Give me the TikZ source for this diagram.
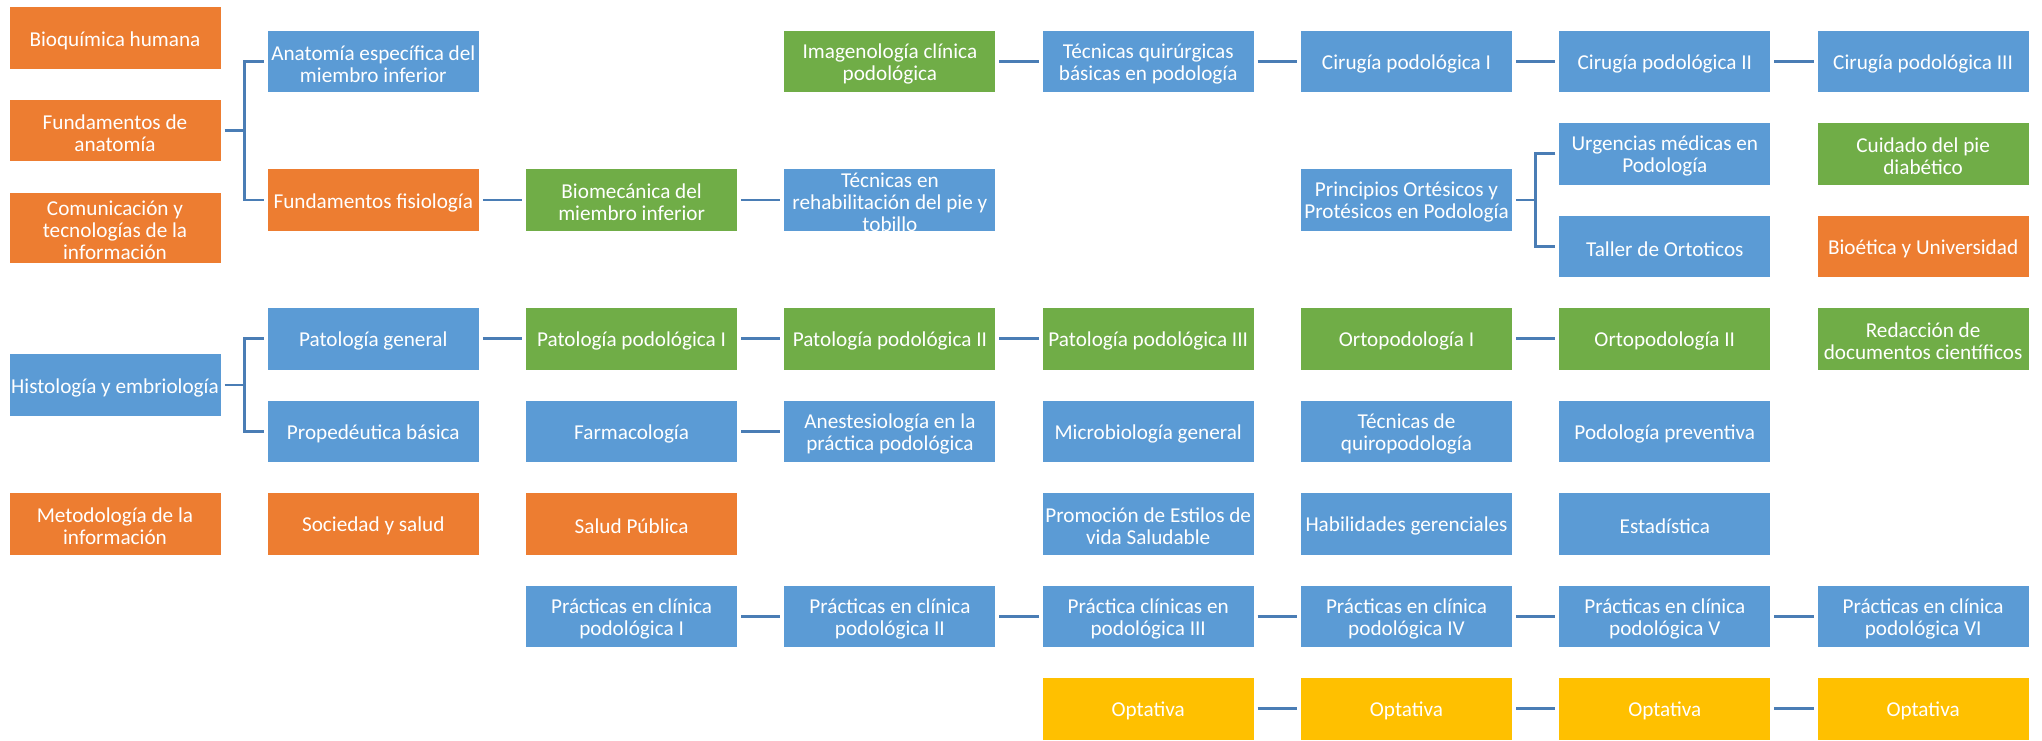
\documentclass[tikz,border=0pt]{standalone}
\usepackage{fontspec}
\setmainfont{Carlito}
\definecolor{cOr}{HTML}{ED7D31}
\definecolor{cBl}{HTML}{5B9BD5}
\definecolor{cGr}{HTML}{70AD47}
\definecolor{cYe}{HTML}{FFC000}
\definecolor{cLn}{HTML}{4A7DB5}
\newcommand\boxtxt[1]{\parbox[c][60pt][c]{212pt}{\vspace*{5pt}\centering #1}}
\tikzset{
  cbox/.style={draw=white, line width=1pt, minimum width=212pt, minimum height=62.5pt,
    inner sep=0pt, text=white, font=\fontsize{21.2}{22}\selectfont},
  obox/.style={cbox, fill=cOr},
  bbox/.style={cbox, fill=cBl},
  gbox/.style={cbox, fill=cGr},
  ybox/.style={cbox, fill=cYe},
  conn/.style={draw=cLn, line width=2.6pt, shorten <=3pt, shorten >=3pt},
}
\begin{document}
\begin{tikzpicture}[x=1pt, y=-1pt]
\useasboundingbox (0,0) rectangle (2042,740);
% column 0
\node[obox] (bioq)  at (115,38)    {\boxtxt{Bioquímica humana}};
\node[obox] (fanat) at (115,130.5) {\boxtxt{Fundamentos de\\anatomía}};
\node[obox, minimum height=71pt] (comu) at (115,227.5) {\boxtxt{Comunicación y\\tecnologías de la\\información}};
\node[bbox] (histo) at (115,385)   {\boxtxt{Histología y embriología}};
\node[obox] (metod) at (115,523.75) {\boxtxt{Metodología de la\\información}};
% column 1
\node[bbox] (anat)  at (373.3,61.25)  {\boxtxt{Anatomía específica del\\miembro inferior}};
\node[obox] (ffis)  at (373.3,200)    {\boxtxt{Fundamentos fisiología}};
\node[bbox] (patgen) at (373.3,338.75) {\boxtxt{Patología general}};
\node[bbox] (prope) at (373.3,431.25) {\boxtxt{Propedéutica básica}};
\node[obox] (soc)   at (373.3,523.75) {\boxtxt{Sociedad y salud}};
% column 2
\node[gbox] (biomec) at (631.6,200)    {\boxtxt{Biomecánica del\\miembro inferior}};
\node[gbox] (pp1)    at (631.6,338.75) {\boxtxt{Patología podológica I}};
\node[bbox] (farma)  at (631.6,431.25) {\boxtxt{Farmacología}};
\node[obox] (salud)  at (631.6,523.75) {\boxtxt{Salud Pública}};
\node[bbox] (prac1)  at (631.6,616.25) {\boxtxt{Prácticas en clínica\\podológica I}};
% column 3
\node[gbox] (imag)  at (889.9,61.25)  {\boxtxt{Imagenología clínica\\podológica}};
\node[bbox] (rehab) at (889.9,200)    {\boxtxt{Técnicas en\\rehabilitación del pie y\\tobillo}};
\node[gbox] (pp2)   at (889.9,338.75) {\boxtxt{Patología podológica II}};
\node[bbox] (anest) at (889.9,431.25) {\boxtxt{Anestesiología en la\\práctica podológica}};
\node[bbox] (prac2) at (889.9,616.25) {\boxtxt{Prácticas en clínica\\podológica II}};
% column 4
\node[bbox] (tqb)   at (1148.2,61.25)  {\boxtxt{Técnicas quirúrgicas\\básicas en podología}};
\node[gbox] (pp3)   at (1148.2,338.75) {\boxtxt{Patología podológica III}};
\node[bbox] (micro) at (1148.2,431.25) {\boxtxt{Microbiología general}};
\node[bbox] (promo) at (1148.2,523.75) {\boxtxt{Promoción de Estilos de\\vida Saludable}};
\node[bbox] (prac3) at (1148.2,616.25) {\boxtxt{Práctica clínicas en\\podológica III}};
\node[ybox] (opt1)  at (1148.2,708.75) {\boxtxt{Optativa}};
% column 5
\node[bbox] (cir1)  at (1406.5,61.25)  {\boxtxt{Cirugía podológica I}};
\node[bbox] (orte)  at (1406.5,200)    {\boxtxt{Principios Ortésicos y\\Protésicos en Podología}};
\node[gbox] (orto1) at (1406.5,338.75) {\boxtxt{Ortopodología I}};
\node[bbox] (quiro) at (1406.5,431.25) {\boxtxt{Técnicas de\\quiropodología}};
\node[bbox] (habil) at (1406.5,523.75) {\boxtxt{Habilidades gerenciales}};
\node[bbox] (prac4) at (1406.5,616.25) {\boxtxt{Prácticas en clínica\\podológica IV}};
\node[ybox] (opt2)  at (1406.5,708.75) {\boxtxt{Optativa}};
% column 6
\node[bbox] (cir2)   at (1664.8,61.25)  {\boxtxt{Cirugía podológica II}};
\node[bbox] (urg)    at (1664.8,153.75) {\boxtxt{Urgencias médicas en\\Podología}};
\node[bbox] (taller) at (1664.8,246.25) {\boxtxt{Taller de Ortoticos}};
\node[gbox] (orto2)  at (1664.8,338.75) {\boxtxt{Ortopodología II}};
\node[bbox] (prev)   at (1664.8,431.25) {\boxtxt{Podología preventiva}};
\node[bbox] (estad)  at (1664.8,523.75) {\boxtxt{Estadística}};
\node[bbox] (prac5)  at (1664.8,616.25) {\boxtxt{Prácticas en clínica\\podológica V}};
\node[ybox] (opt3)   at (1664.8,708.75) {\boxtxt{Optativa}};
% column 7
\node[bbox] (cir3)  at (1923.1,61.25)  {\boxtxt{Cirugía podológica III}};
\node[gbox] (diab)  at (1923.1,153.75) {\boxtxt{Cuidado del pie\\diabético}};
\node[obox] (bioet) at (1923.1,246.25) {\boxtxt{Bioética y Universidad}};
\node[gbox] (redac) at (1923.1,338.75) {\boxtxt{Redacción de\\documentos científicos}};
\node[bbox] (prac6) at (1923.1,616.25) {\boxtxt{Prácticas en clínica\\podológica VI}};
\node[ybox] (opt4)  at (1923.1,708.75) {\boxtxt{Optativa}};
% bracket junctions
\coordinate (b1) at (244.2,130.5);
\coordinate (b2) at (244.2,385);
\coordinate (b3) at (1535.6,200);
% brackets
\draw[conn, shorten >=0pt] (fanat.east) -- (b1);
\draw[conn] (anat.west) -| (b1) |- (ffis.west);
\draw[conn, shorten >=0pt] (histo.east) -- (b2);
\draw[conn] (patgen.west) -| (b2) |- (prope.west);
\draw[conn, shorten >=0pt] (orte.east) -- (b3);
\draw[conn] (urg.west) -| (b3) |- (taller.west);
% straight connectors
\draw[conn] (ffis) -- (biomec);
\draw[conn] (biomec) -- (rehab);
\draw[conn] (imag) -- (tqb);
\draw[conn] (tqb) -- (cir1);
\draw[conn] (cir1) -- (cir2);
\draw[conn] (cir2) -- (cir3);
\draw[conn] (patgen) -- (pp1);
\draw[conn] (pp1) -- (pp2);
\draw[conn] (pp2) -- (pp3);
\draw[conn] (orto1) -- (orto2);
\draw[conn] (farma) -- (anest);
\draw[conn] (prac1) -- (prac2);
\draw[conn] (prac2) -- (prac3);
\draw[conn] (prac3) -- (prac4);
\draw[conn] (prac4) -- (prac5);
\draw[conn] (prac5) -- (prac6);
\draw[conn] (opt1) -- (opt2);
\draw[conn] (opt2) -- (opt3);
\draw[conn] (opt3) -- (opt4);
\end{tikzpicture}
\end{document}
